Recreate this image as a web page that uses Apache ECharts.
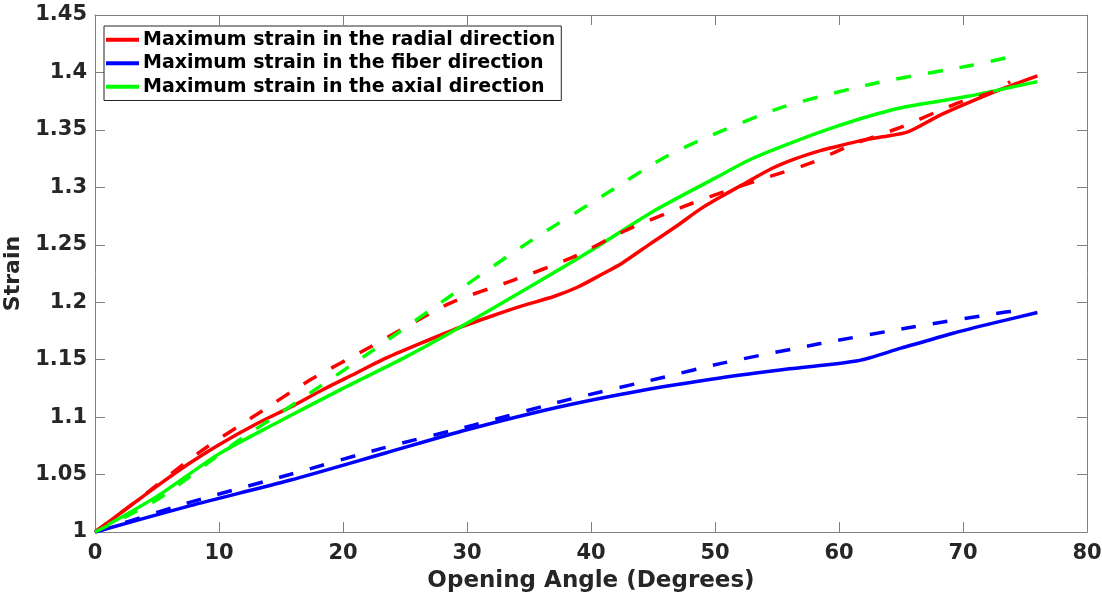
<!DOCTYPE html>
<html>
<head>
<meta charset="utf-8">
<title>Strain vs Opening Angle</title>
<script src="https://cdn.jsdelivr.net/npm/echarts@6/dist/echarts.min.js"></script>
<style>
  html, body { margin: 0; padding: 0; background: #ffffff; }
  #chart { width: 1102px; height: 594px; }
</style>
</head>
<body>
<div id="chart"></div>
<script>
// Axis ranges and tick steps
const xRange = { min: 0, max: 80, interval: 10 };
const yRange = { min: 1, max: 1.45, interval: 0.05 };

// Legend names for the three solid curves
const seriesNames = [
  'Maximum strain in the radial direction',
  'Maximum strain in the fiber direction',
  'Maximum strain in the axial direction'
];

// Solid curves: [opening angle, strain]
const radialSolid = [
  [0, 1], [2.5, 1.020], [5, 1.040], [7.5, 1.059], [10, 1.076], [13, 1.094],
  [16, 1.110], [18.4, 1.124], [21, 1.138], [23.2, 1.150], [26, 1.163],
  [29.4, 1.178], [32, 1.188], [34.5, 1.197], [37, 1.205], [38.9, 1.213],
  [41, 1.225], [42.5, 1.234], [44.8, 1.251], [47, 1.267], [48.8, 1.281],
  [50.5, 1.292], [52.5, 1.304], [54.5, 1.316], [56.5, 1.325], [58.5, 1.332],
  [60, 1.336], [61.5, 1.340], [63.5, 1.344], [65.5, 1.348], [68, 1.362],
  [70.3, 1.373], [73, 1.385], [76, 1.397]
];
const fiberSolid = [
  [0, 1], [7.7, 1.023], [15.7, 1.045], [23.5, 1.069], [30, 1.089],
  [37.5, 1.109], [44, 1.123], [50.4, 1.134], [56, 1.142], [61.5, 1.149],
  [65, 1.160], [69.2, 1.173], [72.5, 1.182], [76, 1.191]
];
const axialSolid = [
  [0, 1], [5, 1.031], [10, 1.068], [15, 1.097], [20, 1.125], [25, 1.152],
  [29.4, 1.178], [35, 1.213], [40, 1.245], [45, 1.279], [50, 1.308],
  [52.8, 1.324], [55, 1.334], [59.5, 1.352], [64.9, 1.369],
  [70.3, 1.379], [76, 1.392]
];

// Dashed curves: [opening angle, strain]
const radialDashed = [
  [0, 1], [3.1, 1.025], [8.5, 1.070], [13, 1.102], [17.3, 1.132],
  [22.2, 1.161], [28.6, 1.199], [33.7, 1.219], [38.5, 1.239], [42.9, 1.263],
  [47.4, 1.283], [50.4, 1.295], [54, 1.308], [57.7, 1.321], [61, 1.337],
  [64.9, 1.352], [69.5, 1.373], [72.4, 1.383], [73.8, 1.392]
];
const fiberDashed = [
  [0, 1], [7.7, 1.026], [15.7, 1.050], [23.2, 1.073], [30.5, 1.093],
  [38.1, 1.115], [45.6, 1.134], [50.6, 1.147], [58.5, 1.164], [65.7, 1.178],
  [73.2, 1.191], [74, 1.192]
];
const axialDashed = [
  [0, 1], [5, 1.028], [11.1, 1.076], [15.7, 1.109], [22.4, 1.158],
  [28.6, 1.205], [34.8, 1.251], [41.3, 1.295], [45.6, 1.324], [48.8, 1.341],
  [55.5, 1.370], [63.1, 1.391], [70.6, 1.406], [74, 1.414]
];

const RED = '#ff0000', BLUE = '#0000ff', GREEN = '#00ff00';
const AXIS_COLOR = '#808080';
const TEXT_COLOR = '#262626';
const FONT = '"DejaVu Sans", sans-serif';

function fmtTick(v) {
  return String(parseFloat(Number(v).toFixed(2)));
}

function lineSeries(name, data, color, dashed, inLegend) {
  return {
    name: inLegend ? name : undefined,
    type: 'line',
    data: data,
    xAxisIndex: 0,
    yAxisIndex: 0,
    showSymbol: false,
    symbol: 'none',
    smooth: 0.25,
    silent: true,
    animation: false,
    z: dashed ? 3 : 2,
    lineStyle: {
      color: color,
      width: 3.5,
      type: dashed ? [15, 17] : 'solid',
      cap: 'butt'
    },
    itemStyle: { color: color }
  };
}

const boxAxisCommon = {
  axisLine: { show: true, onZero: false, lineStyle: { color: AXIS_COLOR, width: 1 } },
  axisTick: { show: true, inside: true, length: 10, lineStyle: { color: AXIS_COLOR, width: 1 } },
  splitLine: { show: false }
};

const chart = echarts.init(document.getElementById('chart'), null, { renderer: 'canvas' });

chart.setOption({
  backgroundColor: '#ffffff',
  animation: false,
  grid: { left: 95, right: 15, top: 15, bottom: 62, containLabel: false, outerBoundsMode: 'none' },
  legend: {
    data: seriesNames,
    orient: 'vertical',
    left: 104,
    top: 26,
    padding: [2, 6, 2, 2],
    itemGap: 0,
    itemWidth: 33,
    itemHeight: 4,
    icon: 'rect',
    backgroundColor: '#ffffff',
    borderColor: TEXT_COLOR,
    borderWidth: 1,
    selectedMode: false,
    textStyle: {
      color: '#000000',
      fontFamily: FONT,
      fontWeight: 'bold',
      fontSize: 19,
      lineHeight: 23.5,
      padding: [0, 0, 0, -1]
    }
  },
  xAxis: [
    Object.assign({
      type: 'value',
      position: 'bottom',
      min: xRange.min, max: xRange.max, interval: xRange.interval,
      name: 'Opening Angle (Degrees)',
      nameLocation: 'middle',
      nameGap: 38,
      nameTextStyle: { color: TEXT_COLOR, fontFamily: FONT, fontWeight: 'bold', fontSize: 23 },
      axisLabel: { color: TEXT_COLOR, fontFamily: FONT, fontWeight: 'bold', fontSize: 21, margin: 11, formatter: fmtTick }
    }, boxAxisCommon),
    Object.assign({
      type: 'value',
      position: 'top',
      min: xRange.min, max: xRange.max, interval: xRange.interval,
      axisLabel: { show: false }
    }, boxAxisCommon)
  ],
  yAxis: [
    Object.assign({
      type: 'value',
      position: 'left',
      min: yRange.min, max: yRange.max, interval: yRange.interval,
      name: 'Strain',
      nameLocation: 'middle',
      nameRotate: 90,
      nameGap: 68,
      nameTextStyle: { color: TEXT_COLOR, fontFamily: FONT, fontWeight: 'bold', fontSize: 22 },
      axisLabel: { color: TEXT_COLOR, fontFamily: FONT, fontWeight: 'bold', fontSize: 21, margin: 8, formatter: fmtTick }
    }, boxAxisCommon),
    Object.assign({
      type: 'value',
      position: 'right',
      min: yRange.min, max: yRange.max, interval: yRange.interval,
      axisLabel: { show: false }
    }, boxAxisCommon)
  ],
  series: [
    lineSeries(seriesNames[0], radialSolid, RED, false, true),
    lineSeries(seriesNames[1], fiberSolid, BLUE, false, true),
    lineSeries(seriesNames[2], axialSolid, GREEN, false, true),
    lineSeries('radial dashed', radialDashed, RED, true, false),
    lineSeries('fiber dashed', fiberDashed, BLUE, true, false),
    lineSeries('axial dashed', axialDashed, GREEN, true, false)
  ]
});
</script>
</body>
</html>
